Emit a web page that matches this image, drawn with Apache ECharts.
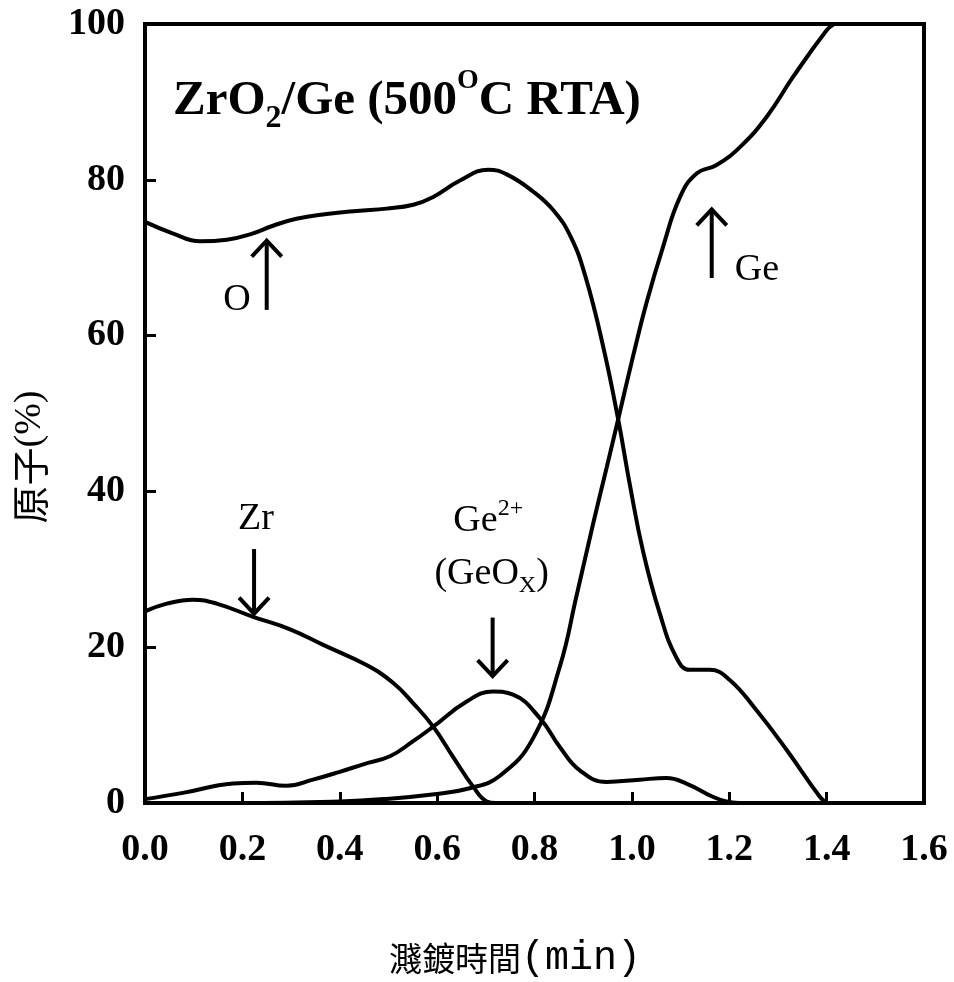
<!DOCTYPE html>
<html>
<head>
<meta charset="UTF-8" />
<title>ZrO2/Ge (500°C RTA) 濺鍍縱深分析</title>
<script src="https://cdn.jsdelivr.net/npm/echarts@6/dist/echarts.min.js"></script>
</head>
<body style="margin: 0;">
<div id="chart" style="width: 954px; height: 982px;"></div>
<script>
// 濺鍍時間 (min) 與各元素原子百分比 (%)
var oTime = [0.00, 0.058, 0.113, 0.168, 0.216, 0.263, 0.311, 0.373, 0.435, 0.496, 0.551, 0.592, 0.647, 0.705, 0.743, 0.797, 0.840, 0.875, 0.905, 0.941, 0.972, 0.996, 1.023, 1.057, 1.092, 1.119, 1.160, 1.201, 1.256, 1.318, 1.386, 1.400];
var oValue = [74.6, 73.1, 72.1, 72.3, 73.0, 74.1, 75.0, 75.6, 76.0, 76.3, 76.8, 77.8, 79.9, 81.3, 80.7, 78.5, 76.0, 72.6, 67.5, 58.6, 49.2, 40.8, 32.3, 24.4, 18.6, 17.1, 17.1, 15.8, 11.9, 6.8, 0.8, 0];

var geTime = [0.00, 0.20, 0.40, 0.49, 0.59, 0.667, 0.729, 0.797, 0.852, 0.886, 0.921, 0.948, 0.972, 1.003, 1.030, 1.064, 1.099, 1.133, 1.174, 1.222, 1.277, 1.331, 1.400, 1.415];
var geValue = [0, 0, 0.2, 0.5, 1.1, 1.9, 3.5, 8.3, 17.5, 26.5, 36.0, 43.0, 49.3, 57.5, 64.2, 71.4, 77.8, 80.8, 81.9, 84.2, 88.1, 93.2, 99.2, 100];

var ge2Time = [0.00, 0.078, 0.181, 0.229, 0.290, 0.345, 0.400, 0.450, 0.503, 0.550, 0.592, 0.660, 0.715, 0.756, 0.811, 0.852, 0.893, 0.948, 1.016, 1.071, 1.112, 1.166, 1.194, 1.220];
var ge2Value = [0.5, 1.3, 2.5, 2.6, 2.2, 3.0, 4.0, 5.0, 6.0, 7.9, 9.8, 13.0, 14.3, 13.9, 10.9, 7.2, 4.2, 2.7, 3.0, 3.2, 2.5, 0.8, 0.2, 0];

var zrTime = [0.00, 0.045, 0.099, 0.147, 0.222, 0.298, 0.366, 0.455, 0.510, 0.551, 0.592, 0.633, 0.674, 0.702, 0.720];
var zrValue = [24.6, 25.6, 26.1, 25.6, 23.9, 22.3, 20.3, 17.7, 15.4, 12.8, 9.8, 5.9, 2.1, 0.2, 0];

function pairs(t, v) {
  return t.map(function (x, i) { return [x, v[i]]; });
}

var serif = "'Liberation Serif', 'Times New Roman', serif";

// 標示文字與箭頭 (資料座標)
var notes = [
  { at: [0.189, 64.6], text: "{g|O}" },
  { at: [1.257, 68.4], text: "{g|Ge}" },
  { at: [0.228, 36.4], text: "{g|Zr}" },
  { at: [0.705, 36.2], text: "{g|Ge}{p|2+}" },
  { at: [0.712, 29.4], text: "{g|(GeO}{x|X}{g|)}" }
];
var arrows = [
  [[0.250, 63.3], [0.250, 72.2]],
  [[1.164, 67.4], [1.164, 76.2]],
  [[0.224, 32.6], [0.224, 24.3]],
  [[0.714, 23.8], [0.714, 16.3]]
];

var myChart = echarts.init(document.getElementById("chart"));

var lineStyle = { color: "#000", width: 4 };
function curve(name, t, v) {
  return {
    name: name,
    type: "line",
    data: pairs(t, v),
    smooth: 0.45,
    showSymbol: false,
    symbol: "none",
    lineStyle: lineStyle,
    itemStyle: { color: "#000" }
  };
}

var option = {
  animation: false,
  backgroundColor: "#fff",
  title: {
    left: 168,
    top: 62,
    text: "{m|ZrO}{s|2}{m|/Ge (500}{u|O}{m|C RTA)}",
    textStyle: {
      rich: {
        m: { fontSize: 49, fontWeight: "bold", fontFamily: serif, color: "#000", lineHeight: 68, verticalAlign: "middle" },
        s: { fontSize: 32, fontWeight: "bold", fontFamily: serif, color: "#000", lineHeight: 30, verticalAlign: "bottom" },
        u: { fontSize: 28, fontWeight: "bold", fontFamily: serif, color: "#000", lineHeight: 42, verticalAlign: "top" }
      }
    }
  },
  grid: {
    left: 145, top: 24, right: 30, bottom: 179,
    show: true, borderColor: "#000", borderWidth: 4
  },
  xAxis: {
    type: "value",
    min: 0, max: 1.6, interval: 0.2,
    axisLine: { show: true, lineStyle: { color: "#000", width: 4 } },
    axisTick: { show: true, inside: true, length: 11, lineStyle: { color: "#000", width: 3 } },
    splitLine: { show: false },
    axisLabel: {
      margin: 28, color: "#000", fontSize: 38, fontWeight: "bold", fontFamily: serif,
      formatter: function (v) { return v.toFixed(1); }
    }
  },
  yAxis: {
    type: "value",
    min: 0, max: 100, interval: 20,
    axisLine: { show: true, lineStyle: { color: "#000", width: 4 } },
    axisTick: { show: true, inside: true, length: 11, lineStyle: { color: "#000", width: 3 } },
    splitLine: { show: false },
    axisLabel: { margin: 20, color: "#000", fontSize: 38, fontWeight: "bold", fontFamily: serif }
  },
  series: [
    curve("O", oTime, oValue),
    curve("Ge", geTime, geValue),
    curve("Ge2+", ge2Time, ge2Value),
    curve("Zr", zrTime, zrValue)
  ]
};

myChart.setOption(option);

// 座標軸名稱與標示
function toPx(p) { return myChart.convertToPixel({ gridIndex: 0 }, p); }

var noteRich = {
  g: { fontSize: 38, fontFamily: serif, fill: "#000", lineHeight: 48, verticalAlign: "middle" },
  p: { fontSize: 24, fontFamily: serif, fill: "#000", lineHeight: 30, verticalAlign: "top" },
  x: { fontSize: 24, fontFamily: serif, fill: "#000", lineHeight: 24, verticalAlign: "bottom" }
};

var graphics = [];
notes.forEach(function (n) {
  var p = toPx(n.at);
  graphics.push({
    type: "text", x: p[0], y: p[1], z: 100,
    style: { text: n.text, rich: noteRich, align: "center", verticalAlign: "middle" }
  });
});
arrows.forEach(function (a) {
  var s = toPx(a[0]), e = toPx(a[1]);
  var dx = e[0] - s[0], dy = e[1] - s[1];
  var len = Math.sqrt(dx * dx + dy * dy);
  var ux = dx / len, uy = dy / len;
  var back = 16, half = 15;
  graphics.push({
    type: "polyline", z: 100,
    shape: { points: [s, [e[0] - ux * 2, e[1] - uy * 2]] },
    style: { stroke: "#000", lineWidth: 4, fill: null }
  });
  graphics.push({
    type: "polyline", z: 100,
    shape: { points: [
      [e[0] - ux * back + uy * half, e[1] - uy * back - ux * half],
      e,
      [e[0] - ux * back - uy * half, e[1] - uy * back + ux * half]
    ] },
    style: { stroke: "#000", lineWidth: 4, fill: null, lineJoin: "miter" }
  });
});

graphics.push({
  type: "text", x: 30, y: 457, rotation: Math.PI / 2, z: 100,
  style: {
    text: "{c|原子}{l|(%)}",
    align: "center", verticalAlign: "middle",
    rich: {
      c: { fontSize: 38, fontFamily: "'Noto Sans CJK TC', sans-serif", fill: "#000", lineHeight: 46 },
      l: { fontSize: 38, fontFamily: serif, fill: "#000", lineHeight: 46 }
    }
  }
});
graphics.push({
  type: "text", x: 515, y: 958, z: 100,
  style: {
    text: "{c|濺鍍時間}{l|(min)}",
    align: "center", verticalAlign: "middle",
    rich: {
      c: { fontSize: 33, fontFamily: "'Noto Sans CJK TC', sans-serif", fill: "#000", lineHeight: 44 },
      l: { fontSize: 40, fontFamily: "'Liberation Mono', monospace", fill: "#000", lineHeight: 44 }
    }
  }
});

myChart.setOption({ graphic: graphics });
</script>
</body>
</html>
